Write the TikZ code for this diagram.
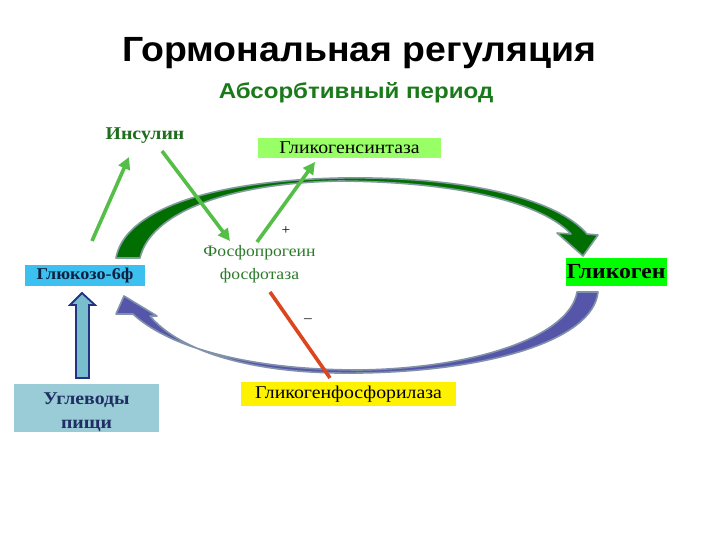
\documentclass[tikz,border=0pt]{standalone}
\usepackage{fontspec}
\setmainfont{Liberation Serif}[FakeStretch=1.1]
\newfontfamily\sansf{Liberation Sans}[FakeStretch=1.07]
\newfontfamily\sansw{Liberation Sans}[FakeStretch=1.12]
\usetikzlibrary{arrows.meta}
\definecolor{titlegreen}{RGB}{26,122,26}
\definecolor{insgreen}{RGB}{30,110,30}
\definecolor{arrgreen}{RGB}{85,190,70}
\definecolor{synbox}{RGB}{153,255,102}
\definecolor{glubox}{RGB}{60,192,240}
\definecolor{glybox}{RGB}{0,255,0}
\definecolor{carbbox}{RGB}{153,204,214}
\definecolor{carbtext}{RGB}{31,47,100}
\definecolor{glutext}{RGB}{16,32,64}
\definecolor{redline}{RGB}{220,70,30}
\definecolor{arcgreen}{RGB}{0,110,0}
\definecolor{arcgray}{RGB}{127,155,155}
\definecolor{arcblue}{RGB}{85,85,170}
\definecolor{arcbluegray}{RGB}{130,145,170}
\definecolor{blockfill}{RGB}{120,190,205}
\definecolor{blockline}{RGB}{35,50,130}
\definecolor{phostext}{RGB}{42,122,42}
\tikzset{
  boxnode/.style={inner sep=0pt, outer sep=0pt, align=center},
  garrow/.style={draw=arrgreen, line width=3.6pt, -{Triangle[length=12pt,width=12pt]}},
}
\begin{document}
\begin{tikzpicture}[x=1pt,y=-1pt]
\useasboundingbox (0,0) rectangle (720,540);
\fill[white] (0,0) rectangle (720,540);

% titles
\node[boxnode, font=\sansf\bfseries\fontsize{35}{40}\selectfont] (title) at (359,53) {Гормональная регуляция};
\node[boxnode, text=titlegreen, font=\sansw\bfseries\fontsize{21.5}{24}\selectfont] (sub) at (356,93) {Абсорбтивный период};

% upper arc (green)
\filldraw[fill=arcgreen, draw=arcgray, line width=1.6pt, line join=round]
 (116,258) .. controls (124,212) and (205,181) .. (340,178)
 .. controls (470,176) and (558,200) .. (587,234)
 -- (598,235) -- (583,256) -- (557,233) -- (571,234)
 .. controls (545,206) and (470,182) .. (340,181)
 .. controls (225,183) and (150,214) .. (140,258) -- cycle;

% lower arc (blue)
\filldraw[fill=arcblue, draw=arcbluegray, line width=1.6pt, line join=round]
 (598,292) .. controls (593,340) and (490,371) .. (360,373)
 .. controls (240,375) and (175,346) .. (150,316)
 -- (157,316) -- (124,296) -- (116,314) -- (133,314)
 .. controls (165,344) and (240,370) .. (360,370)
 .. controls (480,368) and (570,335) .. (577,292) -- cycle;

% nodes
\node[boxnode, text=insgreen, font=\bfseries\fontsize{18}{20}\selectfont] (ins) at (145,136) {Инсулин};
\node[boxnode, fill=synbox, minimum width=183pt, minimum height=20pt, font=\fontsize{18}{19}\selectfont] (syn) at (349.5,148) {Гликогенсинтаза};
\node[boxnode, fill=glubox, minimum width=120pt, minimum height=21pt, text=glutext, font=\bfseries\fontsize{16.5}{18}\selectfont] (glu) at (85,275.5) {Глюкозо-6ф};
\node[boxnode, fill=glybox, minimum width=101pt, minimum height=28pt, font=\bfseries\fontsize{21.5}{24}\selectfont] (gly) at (616,271.5) {Гликоген};
\node[boxnode, text=phostext, font=\fontsize{16}{23}\selectfont] (phos) at (259.5,264) {Фосфопрогеин\\фосфотаза};
\node[boxnode, fill=carbbox, minimum width=145pt, minimum height=48pt,
  label={[boxnode, yshift=-4.5pt, text=carbtext, font=\bfseries\fontsize{18}{24}\selectfont]center:Углеводы\\пищи}] (carb) at (86.5,407.5) {};
\node[boxnode, fill=yellow, minimum width=215pt, minimum height=24pt, font=\fontsize{18}{19}\selectfont] (phor) at (348.5,394) {Гликогенфосфорилаза};
\node[boxnode, font=\fontsize{14}{15}\selectfont] (plus) at (286,231) {+};
\node[boxnode, font=\fontsize{14}{15}\selectfont] (minus) at (308,321) {–};

% connector end points
\coordinate (a1s) at (92,241);
\coordinate (a1e) at (129,157);
\coordinate (a2s) at (162,151);
\coordinate (a2e) at (230,241);
\coordinate (a3s) at (257,242);
\coordinate (a3e) at (315,162);
\coordinate (rs) at (270,292);
\coordinate (re) at (330,378);

\draw[garrow] (a1s) -- (a1e);
\draw[garrow] (a2s) -- (a2e);
\draw[garrow] (a3s) -- (a3e);
\draw[draw=redline, line width=3.6pt] (rs) -- (re);

% block arrow from carbohydrates to glucose-6-phosphate
\filldraw[fill=blockfill, draw=blockline, line width=1.8pt, line join=miter]
 (82,293) -- (95,305) -- (89,305) -- (89,378) -- (76,378) -- (76,305) -- (70,305) -- cycle;
\end{tikzpicture}
\end{document}
